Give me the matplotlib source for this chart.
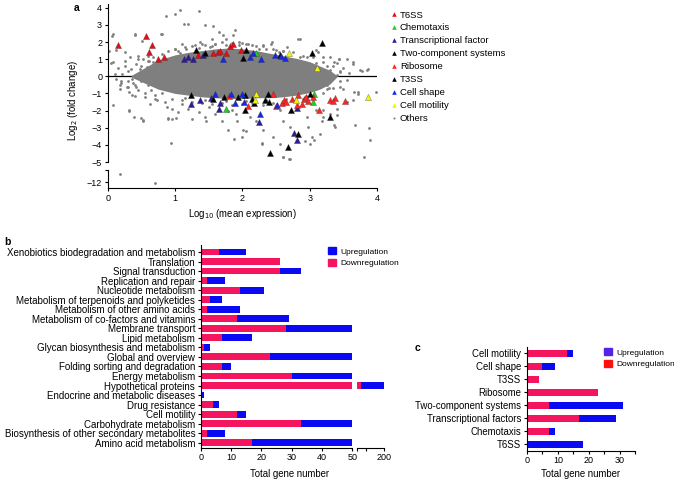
import matplotlib
matplotlib.use("Agg")
import matplotlib.pyplot as plt
from matplotlib.lines import Line2D
from matplotlib.patches import Patch

plt.rcParams.update({
    "font.family": ["Liberation Sans", "DejaVu Sans"],
    "font.size": 6, "axes.linewidth": 0.8,
    "xtick.major.size": 2.5, "ytick.major.size": 2.5,
    "xtick.major.width": 0.8, "ytick.major.width": 0.8,
    "xtick.labelsize": 6.5, "ytick.labelsize": 6.5,
    "xtick.major.pad": 1.5, "ytick.major.pad": 1.5,
    "axes.spines.top": False, "axes.spines.right": False,
})

# ---------------- panel a: MA plot ----------------
# dense core of the "Others" cloud (envelope)
core_x = [0.35, 0.55, 0.75, 1.0, 1.2, 1.4, 1.6, 1.8, 2.0, 2.2, 2.4, 2.6, 2.8, 3.0, 3.15, 3.3,
          3.4]
core_hi = [0.05, 0.5, 0.95, 1.25, 1.4, 1.5, 1.6, 1.65, 1.6, 1.5, 1.35, 1.2, 1.05, 0.85, 0.6,
           0.35, 0.05]
core_lo = [-0.05, -0.4, -0.75, -1.0, -1.1, -1.2, -1.25, -1.3, -1.3, -1.25, -1.25, -1.2, -1.1,
           -0.95, -0.75, -0.45, -0.05]

others_x = [0.87, 1.0, 1.07, 1.36, 1.13, 1.19, 0.08, 0.4, 0.51, 0.79, 1.44, 1.57, 2.42, 2.83,
            0.02, 0.05, 0.11, 0.13, 0.19, 0.3, 0.08, 0.31, 0.39, 0.5, 0.53, 0.89, 0.94, 1.01,
            1.46, 1.79, 1.99, 2.06, 2.29, 2.6, 2.7, 3.0, 3.06, 3.15, 3.36, 3.68, 3.8, 3.88,
            3.9, 3.98, 3.77, 3.87, 3.65, 3.44, 3.1, 3.2, 3.36, 3.55, 3.5, 3.65, 3.72, 3.4,
            3.3, 3.1, 3.2, 0.07, 0.4, 0.8, 0.12, 0.26, 0.33, 0.08, 0.21, 0.36, 0.18, 0.31,
            0.41, 0.31, 0.53, 0.9, 0.96, 0.63, 0.73, 0.88, 0.68, 0.58, 0.48, 0.92, 1.07,
            1.17, 1.37, 1.52, 1.72, 1.89, 1.86, 2.09, 2.31, 2.44, 2.66, 2.86, 2.96, 3.13,
            3.3, 3.43, 3.55, 3.65, 3.3, 3.45, 3.75, 3.85, 3.72, 3.66, 3.45, 3.25, 3.55,
            3.2, 3.4, 3.38, 3.18, 2.96, 2.98, 3.03, 2.93, 2.71, 2.61, 2.56, 2.46, 2.56,
            2.31, 2.21, 2.11, 1.92, 1.84, 2.01, 1.87, 2.29, 2.61, 2.71, 1.1, 1.2, 1.35,
            1.5, 1.45, 1.6, 1.7, 1.78, 1.9, 1.25, 1.05, 0.95, 1.0, 1.1, 1.25, 1.4, 1.6,
            1.55, 1.65, 1.75, 1.95, 2.05, 2.2, 2.35, 2.5, 2.6, 0.25, 0.45, 0.6, 0.2, 0.3,
            0.42, 0.55, 0.7, 0.85, 3.25, 3.4, 3.5, 3.58, 3.28]
others_y = [3.51, 3.63, 3.86, 3.8, 3.04, 3.04, 2.44, 2.4, 2.05, 2.44, 2.98, 2.92, 1.91, 2.2,
            1.46, 0.78, 0.16, -0.14, -0.49, -0.62, -1.7, -2.05, -2.38, -2.42, -2.53, -2.42,
            -3.88, -2.42, -2.61, -3.16, -3.55, -3.2, -3.88, -4.72, -4.81, -3.94, -3.74,
            -3.35, -2.87, -2.87, -4.72, -3.0, -3.74, -0.92, 0.31, 0.45, 0.84, 1.03, 1.52,
            1.13, 0.84, -0.23, -0.72, -1.4, -1.01, -2.28, -2.18, -1.99, -2.38, 2.36, 2.46,
            2.46, 1.56, 1.42, 1.13, 0.84, 0.16, -0.14, -0.72, -0.92, -1.17, -1.95, -2.58,
            -2.48, -2.48, -1.6, -1.4, -1.8, 0.84, 0.55, 0.45, 1.03, 1.33, 1.62, 2.01, 1.72,
            2.4, 2.69, 2.4, 1.91, 1.81, 2.01, 1.72, 2.2, 1.13, 1.42, 1.13, 1.03, 1.03, 0.74,
            0.35, 0.25, 0.35, 0.35, -0.92, -0.92, -0.62, -0.53, -1.5, -1.99, -1.89, -2.93,
            -2.58, -2.38, -2.97, -3.55, -3.75, -2.97, -2.58, -1.99, -3.55, -3.94, -3.16,
            -2.58, -2.38, -2.58, -1.99, -3.16, -3.65, -3.94, -4.72, -4.82, -1.6, -1.9,
            -2.1, -1.8, -2.4, -2.2, -2.6, -2.0, -2.2, -2.5, -2.1, -1.9, 1.6, 1.9, 1.75,
            1.9, 1.9, 2.2, 2.6, 2.2, 2.0, 1.9, 1.75, 1.6, 1.55, 1.45, 0.6, 1.0, 1.2, -0.4,
            -0.3, -0.6, -1.2, -1.3, -1.5, 0.6, 0.75, 0.5, 0.2, -0.7]
# dots hugging the edge of the dense core
fringe_x = [0.15, 0.2, 0.25, 0.28, 0.35, 0.38, 0.42, 0.45, 0.48, 0.5, 0.52, 0.55, 0.58, 0.6,
            0.62, 0.65, 0.68, 0.7, 0.45, 0.36,
            0.6, 0.8, 0.9, 1.0, 1.15, 1.3, 1.45, 1.6, 1.7, 1.85, 2.0, 2.15, 2.3, 2.45, 2.6,
            2.75, 2.9, 3.05, 3.2, 3.35, 3.45,
            0.8, 0.95, 1.1, 1.25, 1.4, 1.55, 1.7, 1.85, 2.0, 2.15, 2.3, 2.45, 2.6, 2.75, 2.9,
            3.05, 3.2, 3.35, 3.45, 3.4,
            1.05, 1.35, 1.55, 1.75, 1.95, 2.25, 2.55, 2.85, 3.1, 1.15, 1.45, 1.75, 2.05,
            2.35, 2.65, 2.95, 3.25, 0.5, 0.4, 0.3]
fringe_y = [0.5, -0.3, 0.9, -0.6, 0.4, -0.4, 0.7, -0.8, 0.2, -0.3, 1.0, -1.0, 0.5, -0.5,
            0.9, -0.8, 1.1, -1.1, 1.2, -1.1,
            0.9, 1.3, 1.5, 1.6, 1.7, 1.8, 1.85, 1.9, 2.0, 1.95, 1.95, 1.85, 1.75, 1.6, 1.5,
            1.4, 1.2, 1.1, 0.85, 0.6, 0.3,
            -1.0, -1.3, -1.4, -1.5, -1.55, -1.6, -1.55, -1.65, -1.6, -1.55, -1.65, -1.55,
            -1.5, -1.4, -1.35, -1.2, -1.0, -0.7, -0.3, 0.05,
            1.45, 1.65, 1.75, 1.8, 1.8, 1.6, 1.4, 1.15, 0.8, -1.25, -1.4, -1.45, -1.45,
            -1.4, -1.35, -1.15, -0.75, 0.6, -0.5, 0.3]
# lowest points shown on the broken axis
low_x = [0.18, 0.7]
low_y = [-11.55, -12.05]

t6ss_x = [0.16, 0.57, 0.66, 0.62, 0.74, 0.83, 1.34, 1.56, 1.64, 1.67, 1.76, 1.81, 1.86, 1.98]
t6ss_y = [1.85, 2.34, 1.81, 1.44, 0.99, 1.15, 1.23, 1.35, 1.4, 1.46, 1.33, 1.76, 1.91, 1.56]
chemo_x = [1.76, 2.21, 3.07, 3.05]
chemo_y = [-1.89, 1.33, -1.05, -1.5]
tf_x = [1.14, 1.2, 1.27, 1.42, 1.24, 1.37, 1.53, 1.66, 1.67, 2.25, 2.77, 2.81, 2.81]
tf_y = [1.03, 1.13, 1.03, 1.23, -1.64, -1.4, -1.25, -1.93, -1.54, -2.67, -3.29, -3.7, -1.83]
tcs_x = [1.31, 1.45, 2.05, 2.01, 2.56, 3.03, 3.19, 1.24, 1.57, 1.73]
tcs_y = [1.56, 1.33, 1.56, 1.07, 1.27, 1.36, 1.97, -1.11, -1.3, -1.21]
ribo_x = [1.8, 2.09, 2.45, 2.59, 2.62, 2.65, 2.83, 2.81, 2.88, 2.91, 2.95, 2.98, 3.05, 3.14,
          3.3, 3.37, 3.34, 3.52, 2.74, 2.5]
ribo_y = [-1.15, -1.75, -1.05, -1.56, -1.36, -1.5, -1.11, -1.7, -1.64, -1.3, -1.21, -1.46,
          -1.21, -1.99, -1.4, -1.25, -1.45, -1.45, -1.35, -1.75]
t3ss_x = [1.94, 2.04, 2.04, 2.14, 2.17, 2.33, 2.38, 2.39, 2.72, 3.0, 3.3, 2.41, 2.68, 2.83]
t3ss_y = [-1.21, -1.11, -1.95, -1.3, -1.58, -1.36, -1.01, -1.5, -1.95, -1.01, -2.38, -4.45,
          -4.12, -3.35]
shape_x = [1.72, 2.11, 2.16, 2.28, 2.48, 2.58, 2.63, 1.59, 1.83, 1.89, 1.99, 2.02, 2.26, 2.52]
shape_y = [1.0, 1.13, 1.36, 1.03, 1.23, 1.17, 1.09, -1.05, -1.05, -1.56, -1.05, -1.5, -2.22,
           -1.66]
motil_x = [2.7, 3.11, 3.87, 2.21, 2.19, 2.79]
motil_y = [1.33, 0.51, -1.19, -1.05, -1.36, -1.36]

# ---------------- panel b: KEGG categories ----------------
kegg_cats = ["Xenobiotics biodegradation and metabolism", "Translation", "Signal transduction",
             "Replication and repair", "Nucleotide metabolism",
             "Metabolism of terpenoids and polyketides", "Metabolism of other amino acids",
             "Metabolism of co-factors and vitamins", "Membrane transport", "Lipid metabolism",
             "Glycan biosynthesis and metabolism", "Global and overview",
             "Folding sorting and degradation", "Energy metabolism", "Hypothetical proteins",
             "Endocrine and metabolic diseases", "Drug resistance", "Cell motility",
             "Carbohydrate metabolism", "Biosynthesis of other secondary metabolites",
             "Amino acid metabolism"]
kegg_down = [6, 26, 26, 2, 13, 3, 2, 12, 28, 7, 1, 23, 7, 30, 76, 0, 4, 12, 33, 2, 17]
kegg_total = [15, 26, 33, 8, 21, 7, 13, 29, 50, 17, 3, 50, 10, 50, 200, 1, 6, 15, 50, 8, 50]

# ---------------- panel c: selected categories ----------------
sel_cats = ["Cell motility", "Cell shape", "T3SS", "Ribosome", "Two-component systems",
            "Transcriptional factors", "Chemotaxis", "T6SS"]
sel_down = [13, 5, 4, 23, 7, 17, 7, 0]
sel_total = [15, 9, 4, 23, 31, 29, 9, 18]

PINK = "#F5155F"
BLUE = "#0A0AF2"
GRAY = "#7f7f7f"

W, H = 674, 480


def fax(x0, y0, x1, y1):
    # pixel box (top-left origin) -> figure axes
    return fig.add_axes([x0 / W, 1 - y1 / H, (x1 - x0) / W, (y1 - y0) / H])


fig = plt.figure(figsize=(W / 100, H / 100), dpi=100)

# ---- a ----
ax_hi = fax(107.7, 4.3, 377, 162)
ax_lo = fax(107.7, 170, 377, 188)
for ax in (ax_hi, ax_lo):
    ax.set_xlim(0, 4)
ax_hi.spines["bottom"].set_visible(False)
ax_hi.tick_params(axis="x", bottom=False, labelbottom=False)
ax_hi.set_ylim(-5, 4.2)
ax_hi.set_yticks(range(-5, 5))
ax_hi.set_yticklabels([f"\u2212{abs(v)}" if v < 0 else str(v) for v in range(-5, 5)])
ax_hi.axhline(0, color="black", lw=0.9, zorder=1)
ax_hi.fill_between(core_x, core_lo, core_hi, color=GRAY, lw=0, zorder=2)
ax_hi.scatter(others_x, others_y, s=4, color=GRAY, lw=0, zorder=2)
ax_hi.scatter(fringe_x, fringe_y, s=4, color=GRAY, lw=0, zorder=2)
ax_lo.scatter(low_x, low_y, s=4, color=GRAY, lw=0, zorder=2)

groups = [
    ("T6SS", t6ss_x, t6ss_y, "#E0101A"),
    ("Chemotaxis", chemo_x, chemo_y, "#22CC22"),
    ("Transcriptional factor", tf_x, tf_y, "#2A1C9C"),
    ("Two-component systems", tcs_x, tcs_y, "#000000"),
    ("Ribosome", ribo_x, ribo_y, "#FF2424"),
    ("T3SS", t3ss_x, t3ss_y, "#000000"),
    ("Cell shape", shape_x, shape_y, "#1428E6"),
    ("Cell motility", motil_x, motil_y, "#F2F20A"),
]
handles = []
for name, xs, ys, col in groups:
    ax_hi.scatter(xs, ys, s=20, marker="^", color=col, edgecolor="#333333", lw=0.2, zorder=3)
    handles.append(Line2D([], [], ls="", marker="^", ms=3.3, color=col, mec="none", label=name))
handles.append(Line2D([], [], ls="", marker="o", ms=1.5, color=GRAY, mec="none", label="Others"))
fig.legend(handles=handles, loc="upper left", bbox_to_anchor=(391 / W, 1 - 10.5 / H),
           frameon=False, fontsize=6.8, handlelength=0.6, handletextpad=0.35,
           labelspacing=0.42, borderpad=0, borderaxespad=0)

ax_lo.set_ylim(-12.35, -11.3)
ax_lo.set_yticks([-11.3, -12])
ax_lo.set_yticklabels(["", "\u221212"])
ax_lo.set_xticks(range(5))
ax_lo.set_xlabel("Log$_{10}$ (mean expression)", fontsize=6.9, labelpad=3)
fig.text(73 / W, 1 - 100 / H, "Log$_2$ (fold change)", rotation=90, ha="center",
         va="center", fontsize=6.9)
fig.text(74 / W, 1 - 8 / H, "a", fontweight="bold", fontsize=7.5, ha="left", va="center")

# ---- b ----
n = len(kegg_cats)
ypos = [n - 1 - i for i in range(n)]
kegg_up = [t - d for t, d in zip(kegg_total, kegg_down)]
b1 = fax(200.7, 245, 352.3, 447.7)
b2 = fax(356.7, 245, 384, 447.7)
for ax in (b1, b2):
    ax.barh(ypos, kegg_down, height=0.72, color=PINK, lw=0)
    ax.barh(ypos, kegg_up, left=kegg_down, height=0.72, color=BLUE, lw=0)
    ax.set_ylim(-0.52, n - 0.27)
b1.set_xlim(0, 50)
b1.set_xticks(range(0, 51, 10))
b1.set_yticks(ypos)
b1.set_yticklabels(kegg_cats, fontsize=7.0)
b2.set_xlim(50, 200)
b2.set_xticks([50, 100, 200])
b2.set_xticklabels(["", "", "200"])
b2.spines["left"].set_visible(False)
b2.tick_params(axis="y", left=False, labelleft=False)
fig.text(290 / W, 1 - 474 / H, "Total gene number", ha="center", va="center", fontsize=6.9)
fig.text(4 / W, 1 - 242 / H, "b", fontweight="bold", fontsize=7.5, ha="left", va="center")
fig.legend(handles=[Patch(color=BLUE, label="Upregulation"),
                    Patch(color=PINK, label="Downregulation")],
           loc="upper left", bbox_to_anchor=(328 / W, 1 - 247 / H), frameon=False,
           fontsize=6.0, handlelength=1.0, handleheight=1.0, handletextpad=0.5,
           labelspacing=0.35, borderpad=0, borderaxespad=0)

# ---- c ----
m = len(sel_cats)
cpos = [m - 1 - i for i in range(m)]
sel_up = [t - d for t, d in zip(sel_total, sel_down)]
c1 = fax(527, 347.3, 635, 450.7)
c1.barh(cpos, sel_down, height=0.5, color=PINK, lw=0)
c1.barh(cpos, sel_up, left=sel_down, height=0.5, color=BLUE, lw=0)
c1.set_xlim(0, 35)
c1.set_ylim(-0.49, m - 0.54)
c1.set_xticks(range(0, 36, 5))
c1.set_xticklabels(["0", "", "10", "", "20", "", "30", ""])
c1.set_yticks(cpos)
c1.set_yticklabels(sel_cats, fontsize=6.9)
fig.text(581 / W, 1 - 474 / H, "Total gene number", ha="center", va="center", fontsize=6.9)
fig.text(415 / W, 1 - 348 / H, "c", fontweight="bold", fontsize=7.5, ha="left", va="center")
fig.legend(handles=[Patch(color="#5522E8", label="Upregulation"),
                    Patch(color="#FF1010", label="Downregulation")],
           loc="upper left", bbox_to_anchor=(604 / W, 1 - 348 / H), frameon=False,
           fontsize=6.0, handlelength=1.0, handleheight=1.0, handletextpad=0.5,
           labelspacing=0.35, borderpad=0, borderaxespad=0)

fig.savefig("out.png", dpi=100)
